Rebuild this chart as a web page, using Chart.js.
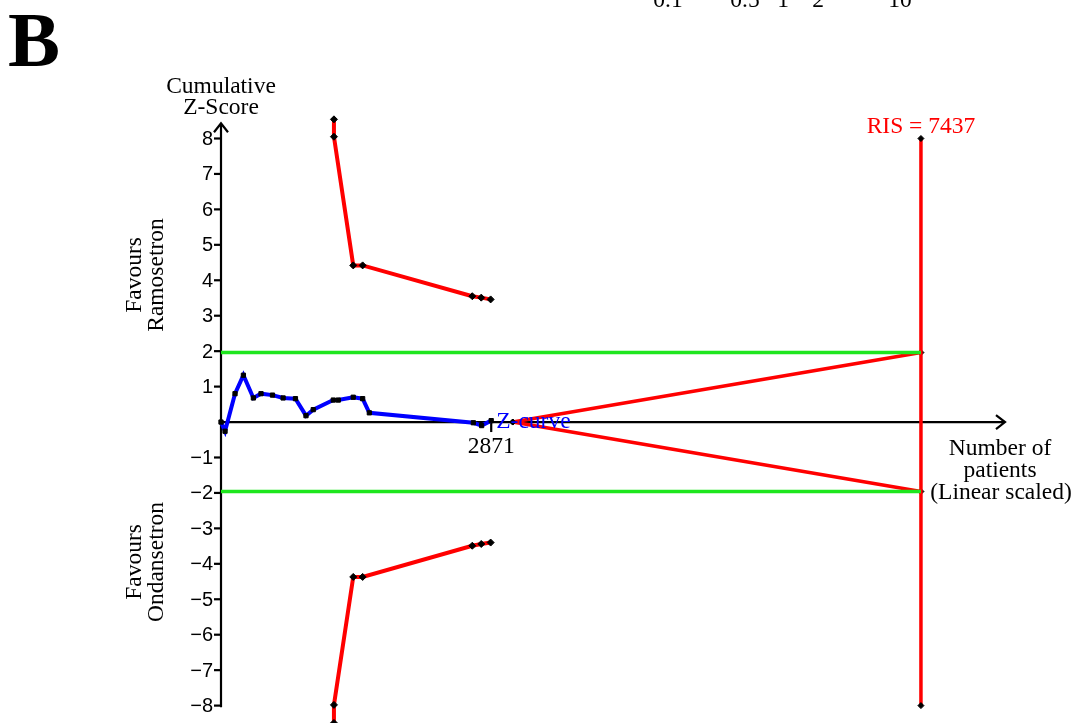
<!DOCTYPE html>
<html>
<head>
<meta charset="utf-8">
<script src="https://cdn.jsdelivr.net/npm/chart.js@4/dist/chart.umd.min.js"></script>
<style>
  html, body { margin: 0; padding: 0; background: #fff; }
  canvas { display: block; }
</style>
</head>
<body>
<canvas id="tsa" width="1086" height="723"></canvas>
<script>
// cumulative Z-curve (number of patients vs z)
const zPatients = [0, 43, 149, 238, 344, 425, 547, 660, 791, 903, 980, 1193, 1246, 1405, 1505, 1576, 2681, 2769, 2871];
const zValues   = [0, -0.26, 0.80, 1.32, 0.68, 0.80, 0.76, 0.68, 0.66, 0.18, 0.35, 0.62, 0.62, 0.70, 0.66, 0.26, -0.02, -0.10, 0.04];

// alpha-spending monitoring boundaries
const boundPatients = [1200, 1200, 1405, 1505, 2670, 2765, 2865];
const boundUpper    = [8.54, 8.05, 4.42, 4.42, 3.55, 3.51, 3.46];
const boundLower    = [-8.49, -7.98, -4.37, -4.37, -3.49, -3.44, -3.40];

// inner wedge (futility)
const wedgePatients = [3100, 7437];
const wedgeUpper    = [0, 1.96];
const wedgeLower    = [0, -1.96];

// conventional significance
const convPatients = [0, 7437];
const convZ = 1.96;

const ris = 7437;
const risZ = [8, -8];

const yTicks = [8, 7, 6, 5, 4, 3, 2, 1, -1, -2, -3, -4, -5, -6, -7, -8];
const xTicks = [2871];
const topLabels = ['0.1', '0.5', '1', '2', '10'];
const topLabelX = [668, 745, 783, 818, 900];

const pts = (xs, ys) => xs.map((x, i) => ({ x: x, y: ys[i] }));

const serif = '"Liberation Serif", "Times New Roman", serif';
const sans = '"Liberation Sans Narrow", "Arial Narrow", "Liberation Sans", sans-serif';
const txt = '23.5px ' + serif;

const axesPlugin = {
  id: 'axes',
  beforeDraw(chart) {
    const ctx = chart.ctx;
    ctx.save();
    ctx.fillStyle = '#fff';
    ctx.fillRect(0, 0, chart.width, chart.height);
    ctx.restore();
  },
  beforeDatasetsDraw(chart) {
    const ctx = chart.ctx;
    const xs = chart.scales.x, ys = chart.scales.y;
    const x0 = xs.getPixelForValue(0);
    const y0 = ys.getPixelForValue(0);
    const xEnd = xs.getPixelForValue(xs.max);
    const yTop = ys.getPixelForValue(8.43);
    const yBot = ys.getPixelForValue(-8.05);
    ctx.save();
    ctx.strokeStyle = '#000';
    ctx.lineWidth = 2.2;
    // y axis + arrow
    ctx.beginPath();
    ctx.moveTo(x0, yBot); ctx.lineTo(x0, yTop);
    ctx.moveTo(x0 - 7, yTop + 9); ctx.lineTo(x0, yTop); ctx.lineTo(x0 + 7, yTop + 9);
    // x axis + arrow
    ctx.moveTo(x0, y0); ctx.lineTo(xEnd, y0);
    ctx.moveTo(xEnd - 9, y0 - 7); ctx.lineTo(xEnd, y0); ctx.lineTo(xEnd - 9, y0 + 7);
    ctx.stroke();
    // y ticks
    ctx.fillStyle = '#000';
    ctx.font = '20px ' + sans;
    ctx.textAlign = 'right';
    ctx.textBaseline = 'middle';
    yTicks.forEach(v => {
      const y = ys.getPixelForValue(v);
      ctx.beginPath(); ctx.moveTo(x0 - 7, y); ctx.lineTo(x0, y); ctx.stroke();
      ctx.fillText(v < 0 ? '\u2212' + Math.abs(v) : String(v), x0 - 8, y + 1);
    });
    // x ticks
    ctx.font = txt;
    ctx.textAlign = 'center';
    ctx.textBaseline = 'alphabetic';
    xTicks.forEach(v => {
      const x = xs.getPixelForValue(v);
      ctx.beginPath(); ctx.moveTo(x, y0 - 2); ctx.lineTo(x, y0 + 10); ctx.stroke();
      ctx.fillText(String(v), x, y0 + 31);
    });
    ctx.restore();
  },
  afterDraw(chart) {
    const ctx = chart.ctx;
    const xs = chart.scales.x, ys = chart.scales.y;
    const x0 = xs.getPixelForValue(0);
    const y0 = ys.getPixelForValue(0);
    ctx.save();
    ctx.fillStyle = '#000';
    // panel letter
    ctx.font = 'bold 78px ' + serif;
    ctx.textAlign = 'left';
    ctx.textBaseline = 'alphabetic';
    ctx.fillText('B', 8, 66);
    // cut-off labels from the panel above
    ctx.font = txt;
    ctx.textAlign = 'center';
    topLabels.forEach((t, i) => ctx.fillText(t, topLabelX[i], 7));
    // y title
    ctx.fillText('Cumulative', x0, 93);
    ctx.fillText('Z-Score', x0, 114);
    // x title
    ctx.fillText('Number of', 1000, 455);
    ctx.fillText('patients', 1000, 477);
    ctx.fillText('(Linear scaled)', 1001, 499);
    // favours labels
    const side = (a, b, cy) => {
      ctx.save();
      ctx.translate(146, cy);
      ctx.rotate(-Math.PI / 2);
      ctx.textBaseline = 'middle';
      ctx.fillText(a, 0, -11);
      ctx.fillText(b, 0, 11);
      ctx.restore();
    };
    side('Favours', 'Ramosetron', 275);
    side('Favours', 'Ondansetron', 562);
    // RIS label
    ctx.fillStyle = '#ff0000';
    ctx.fillText('RIS = ' + ris, xs.getPixelForValue(ris), 133);
    // Z-curve label
    ctx.fillStyle = '#0000ff';
    ctx.textAlign = 'left';
    ctx.textBaseline = 'middle';
    ctx.fillText('Z-curve', xs.getPixelForValue(2871) + 5, y0);
    ctx.restore();
  }
};

const red = '#ff0000';
const dot = { pointRadius: 3.5, pointStyle: 'rectRot', pointBackgroundColor: '#000', pointBorderColor: '#000', pointBorderWidth: 1 };

new Chart(document.getElementById('tsa'), {
  type: 'scatter',
  data: {
    datasets: [
      { data: pts(convPatients, [convZ, convZ]), showLine: true, borderColor: '#1ee61e', borderWidth: 3.5, pointRadius: 0 },
      { data: pts(convPatients, [-convZ, -convZ]), showLine: true, borderColor: '#1ee61e', borderWidth: 3.5, pointRadius: 0 },
      Object.assign({ data: pts([ris, ris], risZ), showLine: true, borderColor: red, borderWidth: 3.5 }, dot, { pointRadius: 3 }),
      Object.assign({ data: pts(wedgePatients, wedgeUpper), showLine: true, borderColor: red, borderWidth: 3.5 }, dot, { pointRadius: 3 }),
      Object.assign({ data: pts(wedgePatients, wedgeLower), showLine: true, borderColor: red, borderWidth: 3.5 }, dot, { pointRadius: 3 }),
      Object.assign({ data: pts(boundPatients, boundUpper), showLine: true, borderColor: red, borderWidth: 4 }, dot),
      Object.assign({ data: pts(boundPatients, boundLower), showLine: true, borderColor: red, borderWidth: 4 }, dot),
      { data: pts(zPatients, zValues), showLine: true, borderColor: '#0000ff', borderWidth: 4,
        pointRadius: 3, pointStyle: 'rect', pointBackgroundColor: '#000', pointBorderColor: '#000', pointBorderWidth: 1 }
    ]
  },
  options: {
    responsive: false,
    animation: false,
    clip: false,
    layout: { padding: { left: 221, right: 81, top: 119, bottom: 0.5 } },
    elements: { line: { tension: 0 } },
    scales: {
      x: { type: 'linear', min: 0, max: 8330, display: false },
      y: { type: 'linear', min: -8.35, max: 8.55, display: false }
    },
    plugins: { legend: { display: false }, tooltip: { enabled: false } }
  },
  plugins: [axesPlugin]
});
</script>
</body>
</html>
